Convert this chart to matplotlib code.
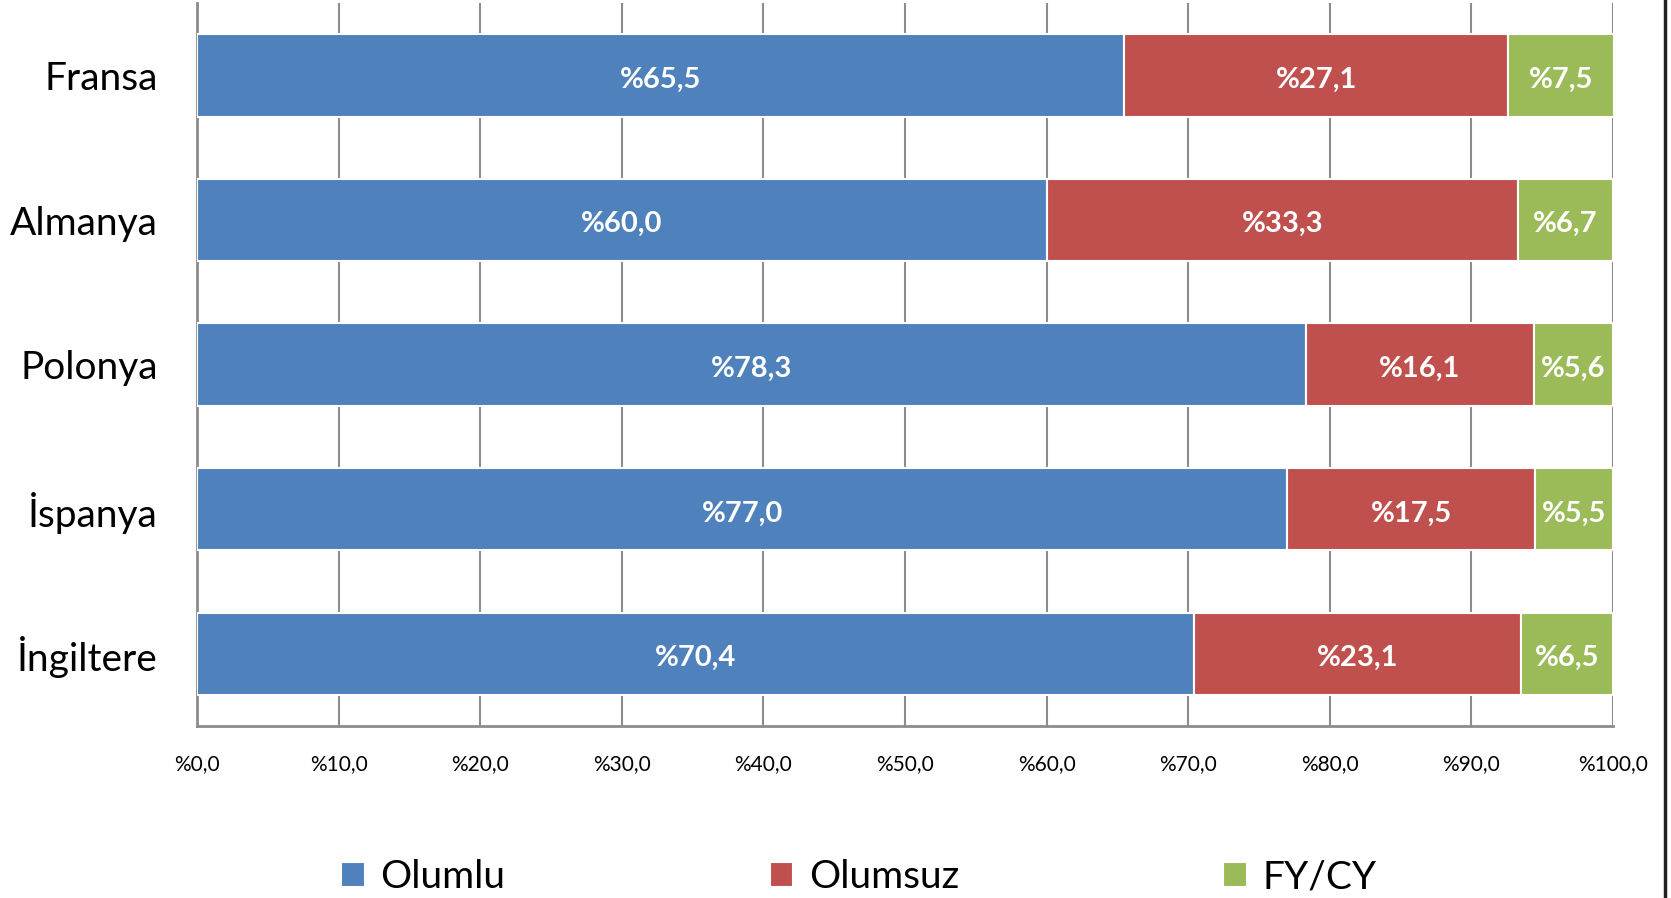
import matplotlib
matplotlib.use("Agg")
import matplotlib.pyplot as plt
from matplotlib.lines import Line2D
import numpy as np

plt.rcParams['font.family'] = ['Lato', 'DejaVu Sans']

countries = ["Fransa", "Almanya", "Polonya", "İspanya", "İngiltere"]
olumlu = [65.5, 60.0, 78.3, 77.0, 70.4]
olumsuz = [27.1, 33.3, 16.1, 17.5, 23.1]
fycy = [7.5, 6.7, 5.6, 5.5, 6.5]
series_names = ["Olumlu", "Olumsuz", "FY/CY"]
colors = ["#4F81BD", "#C0504D", "#9BBB59"]
xticks = list(range(0, 101, 10))


def pct(v):
    return "%" + f"{v:.1f}".replace(".", ",")


fig = plt.figure(figsize=(16.71, 8.98), dpi=100)
ax = fig.add_axes([0.1179, 0.1915, 0.8474, 0.805])

y = np.arange(len(countries))
left = np.zeros(len(countries))
for name, vals, c in zip(series_names, [olumlu, olumsuz, fycy], colors):
    bars = ax.barh(y, vals, left=left, height=0.57, color=c,
                   edgecolor="white", linewidth=1.5, label=name, zorder=3)
    # labels centred in each segment, nudged down a little like the original
    for yy, l, v in zip(y, left, vals):
        ax.text(l + v / 2, yy + 0.03, pct(v), ha="center", va="center",
                color="white", fontsize=21, fontweight="bold", zorder=4)
    left += np.array(vals)

ax.set_xlim(0, 100)
ax.set_ylim(len(countries) - 0.5, -0.5)
ax.set_yticks(y)
ax.set_yticklabels(countries, fontsize=28)
ax.set_xticks(xticks)
ax.set_xticklabels([pct(v) for v in xticks], fontsize=15)
ax.tick_params(axis="y", length=0, pad=28)
ax.tick_params(axis="x", length=0, pad=20)
ax.grid(axis="x", color="#8c8c8c", linewidth=1.5, zorder=0)
ax.set_axisbelow(True)
for s in ["top", "right"]:
    ax.spines[s].set_visible(False)
for s in ["left", "bottom"]:
    ax.spines[s].set_color("#8c8c8c")
    ax.spines[s].set_linewidth(2)

fig.legend(loc="center", bbox_to_anchor=(0.514, 0.023), ncol=3, frameon=False,
           fontsize=28, handlelength=0.6, handleheight=0.6, handletextpad=0.4,
           columnspacing=6.8)

fig.add_artist(Line2D([0.9966, 0.9966], [0, 1], color="#222222", linewidth=2.5,
                      transform=fig.transFigure))

fig.savefig("out.png", dpi=100)
